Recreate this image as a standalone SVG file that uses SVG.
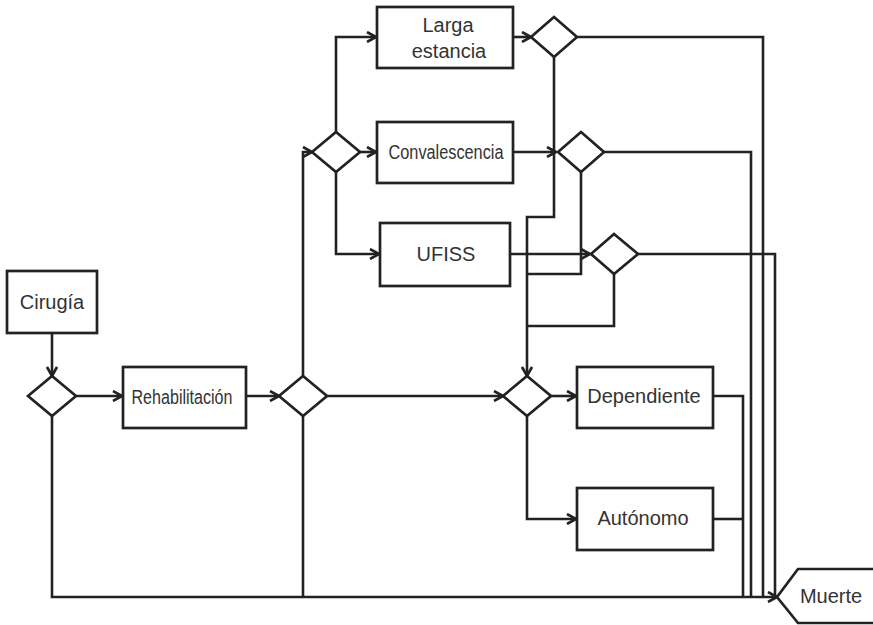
<svg xmlns="http://www.w3.org/2000/svg" width="873" height="625" viewBox="0 0 873 625">
<style>
.box{fill:#fff;stroke:#222;stroke-width:2.7}
.dia{fill:#fff;stroke:#222;stroke-width:2.7;stroke-linejoin:miter}
.lbl{font-family:"Liberation Sans",Arial,sans-serif;font-size:20px;fill:#333;text-anchor:middle;dominant-baseline:central}
.c{fill:none;stroke:#222;stroke-width:2.6;stroke-linejoin:miter}
.a{marker-end:url(#arr)}
</style>
<defs>
<marker id="arr" viewBox="0 0 12 12" refX="11" refY="6" markerWidth="12" markerHeight="12" markerUnits="userSpaceOnUse" orient="auto">
<path d="M2,1 L11,6 L2,11" fill="none" stroke="#222" stroke-width="2.6"/>
</marker>
</defs>
<g id="connectors">
<path class="c a" d="M52,333 V376"/>
<path class="c a" d="M76,396 H122"/>
<path class="c a" d="M246,396 H279"/>
<path class="c a" d="M303,376 V152 H312"/>
<path class="c a" d="M327,396 H503"/>
<path class="c a" d="M336,132 V37 H376"/>
<path class="c a" d="M360,152 H376"/>
<path class="c a" d="M336,172 V254 H379"/>
<path class="c a" d="M513,37 H531"/>
<path class="c a" d="M513,152 H556"/>
<path class="c a" d="M510,254 H590"/>
<path class="c a" d="M554,57 V217 H527 V376"/>
<path class="c" d="M581,172 V274 H527"/>
<path class="c" d="M614,274 V326 H527"/>
<path class="c a" d="M551,396 H576"/>
<path class="c a" d="M527,416 V519 H576"/>
<path class="c" d="M577,37 H763 V597"/>
<path class="c" d="M604,152 H751 V597"/>
<path class="c" d="M638,254 H775 V597"/>
<path class="c" d="M713,396 H743 V597"/>
<path class="c" d="M713,519 H743"/>
<path class="c a" d="M52,416 V597 H777"/>
<path class="c" d="M303,416 V597"/>
</g>
<g id="cirugia"><rect class="box" x="7" y="271" width="90" height="62"/><text class="lbl" x="52" y="302">Cirugía</text></g>
<g id="d1"><polygon class="dia" points="28,396 52,376 76,396 52,416"/></g>
<g id="rehabilitacion"><rect class="box" x="123" y="367" width="123" height="61"/><text class="lbl" x="182" y="397" textLength="101" lengthAdjust="spacingAndGlyphs">Rehabilitación</text></g>
<g id="d2"><polygon class="dia" points="279,396 303,376 327,396 303,416"/></g>
<g id="d3"><polygon class="dia" points="312,152 336,132 360,152 336,172"/></g>
<g id="larga"><rect class="box" x="377" y="7" width="136" height="61"/><text class="lbl" x="448" y="25">Larga</text><text class="lbl" x="449" y="51">estancia</text></g>
<g id="convalescencia"><rect class="box" x="377" y="122" width="136" height="61"/><text class="lbl" x="446" y="152" textLength="115" lengthAdjust="spacingAndGlyphs">Convalescencia</text></g>
<g id="ufiss"><rect class="box" x="380" y="223" width="130" height="63"/><text class="lbl" x="446" y="254">UFISS</text></g>
<g id="dL"><polygon class="dia" points="531,37 554,17 577,37 554,57"/></g>
<g id="dC"><polygon class="dia" points="558,152 581,132 604,152 581,172"/></g>
<g id="dU"><polygon class="dia" points="591,254 614,234 638,254 614,274"/></g>
<g id="dD"><polygon class="dia" points="503,396 527,376 551,396 527,416"/></g>
<g id="dependiente"><rect class="box" x="577" y="367" width="136" height="61"/><text class="lbl" x="644" y="396">Dependiente</text></g>
<g id="autonomo"><rect class="box" x="577" y="488" width="136" height="62"/><text class="lbl" x="643" y="518">Autónomo</text></g>
<g id="muerte"><polygon class="box" points="777,597 798,569 885,569 885,623 798,623"/><text class="lbl" x="831" y="596">Muerte</text></g>
</svg>
